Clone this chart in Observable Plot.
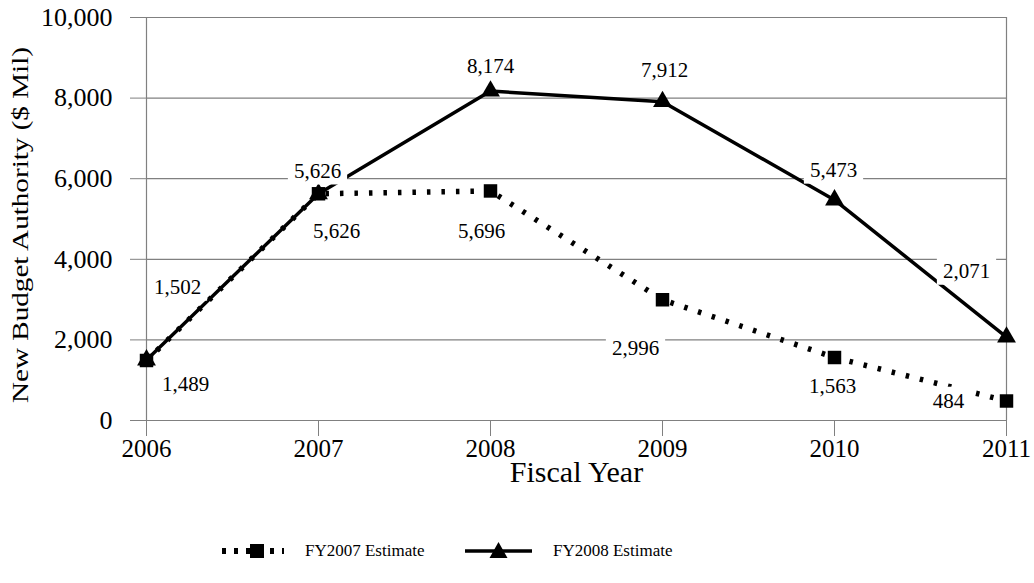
<!DOCTYPE html>
<html>
<head>
<meta charset="utf-8">
<script src="https://cdn.jsdelivr.net/npm/d3@7"></script>
<script src="https://cdn.jsdelivr.net/npm/@observablehq/plot@0.6"></script>
<style>
  html, body { margin: 0; padding: 0; background: #fff; }
  body { font-family: "Liberation Serif", "Times New Roman", serif; color: #000; }
  #wrap { position: relative; width: 1034px; height: 583px; overflow: hidden; }
  #chart { position: absolute; left: 0; top: 0; }
  #chart svg { font-family: "Liberation Serif", "Times New Roman", serif; }
  #legend { position: absolute; left: 0; top: 539px; width: 1034px; height: 24px; font-size: 17px; }
  #legend .item { position: absolute; top: 0; height: 24px; display: flex; align-items: center; white-space: nowrap; }
  #legend svg { display: block; }
</style>
</head>
<body>
<div id="wrap">
  <div id="chart"></div>
  <div id="legend"></div>
</div>
<script>
// ---- data ----
const years = [2006, 2007, 2008, 2009, 2010, 2011];
const fy2007 = [1489, 5626, 5696, 2996, 1563, 484];
const fy2008 = [1502, 5626, 8174, 7912, 5473, 2071];
const yTicks = [0, 2000, 4000, 6000, 8000, 10000];
const seriesNames = ["FY2007 Estimate", "FY2008 Estimate"];
const xTitle = "Fiscal Year";
const yTitle = "New Budget Authority ($ Mil)";

// ---- layout of value labels (pixel offsets from each point) ----
const off07 = [[39, 24], [18, 37], [-9, 40], [-27, 49], [-2, 29], [-58, 0]];
const off08 = [[31, -73], [-1, -23], [0, -25], [2, -31], [-1, -30], [-40, -66]];

const rows07 = years.map((year, i) => ({year, value: fy2007[i]}));
const rows08 = years.map((year, i) => ({year, value: fy2008[i]}));
const fmt = d3.format(",");
const grid = "#808080";
const serif = "'Liberation Serif', 'Times New Roman', serif";

const labelMarks = [];
function addLabels(values, offs) {
  values.forEach((v, i) => {
    labelMarks.push(Plot.text([i], {
      x: (j) => years[j],
      y: (j) => values[j],
      text: (j) => fmt(values[j]),
      dx: offs[i][0],
      dy: offs[i][1],
      fontSize: 21,
      fontFamily: serif,
      fill: "black"
    }));
  });
}
addLabels(fy2008, off08);
addLabels(fy2007, off07);

const chart = Plot.plot({
  width: 1034,
  height: 530,
  marginLeft: 146,
  marginRight: 28,
  marginTop: 17,
  marginBottom: 110,
  style: `font-family: ${serif}; background: white; color: black; overflow: visible;`,
  x: { type: "linear", domain: [2006, 2011] },
  y: { domain: [0, 10000] },
  marks: [
    Plot.ruleY(yTicks, { stroke: grid, strokeWidth: 1.2 }),
    Plot.ruleX([years[0], years[years.length - 1]], { y1: 0, y2: 10000, stroke: grid, strokeWidth: 1.2 }),
    Plot.axisY({ ticks: yTicks, tickSize: 16, tickPadding: 18, tickFormat: (d) => fmt(d), fontSize: 26, fontFamily: serif, stroke: grid, label: null }),
    Plot.axisX({ ticks: years, tickSize: 16, tickPadding: 3, tickFormat: (d) => String(d), fontSize: 25, fontFamily: serif, stroke: grid, label: null }),
    // FY2008 (solid, triangles)
    Plot.line(rows08, { x: "year", y: "value", stroke: "black", strokeWidth: 3.5 }),
    Plot.dot(rows08, { x: "year", y: "value", symbol: "triangle", r: 7, fill: "black", stroke: "none" }),
    // FY2007 (dotted, squares)
    Plot.line(rows07, { x: "year", y: "value", stroke: "black", strokeWidth: 5.5, strokeDasharray: "3.5,11", strokeLinecap: "butt" }),
    Plot.dot(rows07, { x: "year", y: "value", symbol: "square", r: 7.6, fill: "black", stroke: "none" }),
    ...labelMarks,
    Plot.text([xTitle], { text: (d) => d, frameAnchor: "bottom", lineAnchor: "middle", textAnchor: "middle", dy: 52, fontSize: 30, fontFamily: serif, fill: "black" }),
    Plot.text([yTitle], { text: (d) => d, frameAnchor: "left", lineAnchor: "middle", textAnchor: "middle", rotate: -90, dx: -126, dy: 6, fontSize: 24, fontFamily: serif, fill: "black" })
  ]
});

document.getElementById("chart").append(chart);

// white boxes behind value labels (as in the original)
const NS = "http://www.w3.org/2000/svg";
const labelTexts = new Set([...fy2007, ...fy2008].map(fmt));
chart.querySelectorAll("text").forEach((t) => {
  const s = t.textContent;
  if (labelTexts.has(s)) {
    const b = t.getBBox();
    const r = document.createElementNS(NS, "rect");
    r.setAttribute("x", b.x - 6);
    r.setAttribute("y", b.y - 2);
    r.setAttribute("width", b.width + 12);
    r.setAttribute("height", b.height + 4);
    r.setAttribute("fill", "white");
    r.setAttribute("stroke", "none");
    const tr = t.getAttribute("transform");
    if (tr) r.setAttribute("transform", tr);
    t.parentNode.insertBefore(r, t);
  } else if (s === yTitle) {
    t.setAttribute("textLength", 356);
    t.setAttribute("lengthAdjust", "spacingAndGlyphs");
  }
});

// ---- legend ----
const legend = d3.select("#legend");
const item1 = legend.append("div").attr("class", "item").style("left", "220px");
const s1 = item1.append("svg").attr("width", 66).attr("height", 24);
s1.append("line").attr("x1", 2).attr("x2", 64).attr("y1", 12).attr("y2", 12)
  .attr("stroke", "black").attr("stroke-width", 6).attr("stroke-dasharray", "4,8");
s1.append("rect").attr("x", 30).attr("y", 5).attr("width", 14).attr("height", 14).attr("fill", "black");
legend.append("div").attr("class", "item").style("left", "305px").text(seriesNames[0]);

const item2 = legend.append("div").attr("class", "item").style("left", "463px");
const s2 = item2.append("svg").attr("width", 72).attr("height", 24);
s2.append("line").attr("x1", 2).attr("x2", 69).attr("y1", 12).attr("y2", 12)
  .attr("stroke", "black").attr("stroke-width", 3.5);
s2.append("path").attr("d", "M35.5,3 L44.5,19 L26.5,19 Z").attr("fill", "black");
legend.append("div").attr("class", "item").style("left", "553px").text(seriesNames[1]);
</script>
</body>
</html>
